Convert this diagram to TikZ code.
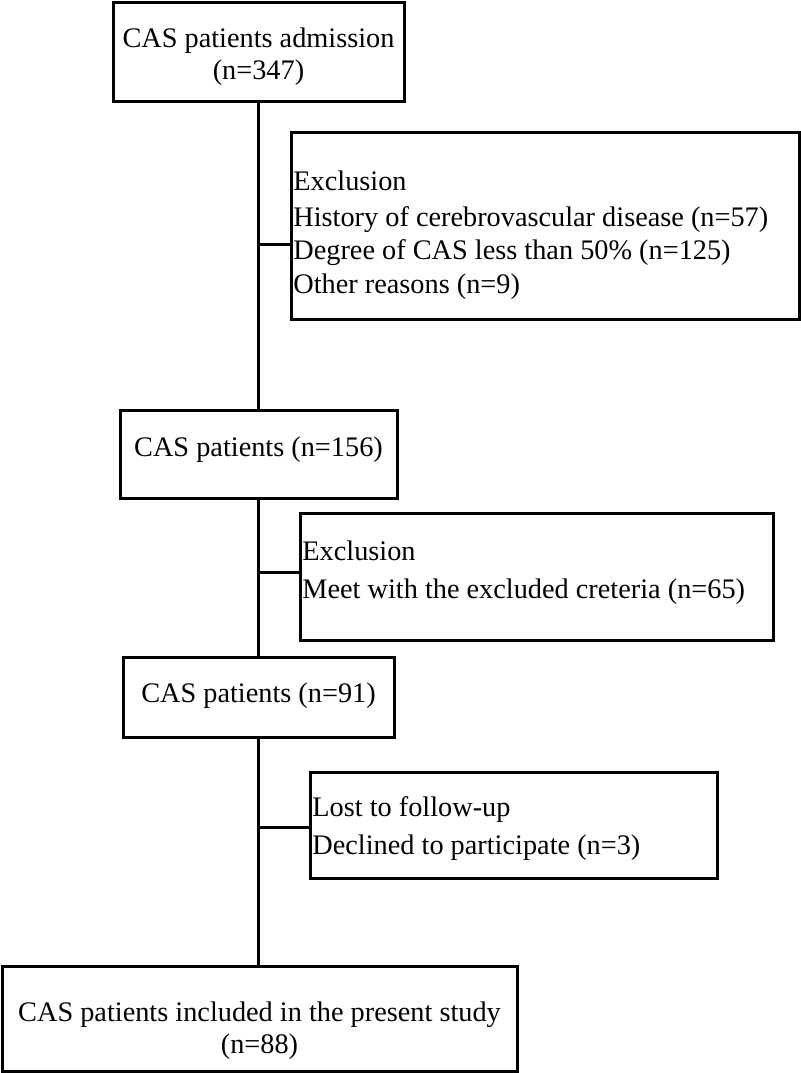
\documentclass[tikz,border=0pt]{standalone}
\usepackage{fontspec}
\setmainfont{Liberation Serif}
\usetikzlibrary{fit}
\begin{document}
\begin{tikzpicture}[x=0.5pt,y=-0.5pt,
  box/.style={draw, line width=1.5pt, inner sep=0pt},
  ln/.style={line width=1.5pt},
  txt/.style={inner sep=0pt, font=\fontsize{14.15}{16}\selectfont}]
\useasboundingbox (0,0) rectangle (800,1073);
% boxes
\node[box, fit={(113,2) (404,101)}] (b1) {};
\node[box, fit={(291,132) (799,319)}] (e1) {};
\node[box, fit={(120,410) (397,498)}] (b2) {};
\node[box, fit={(300,513) (773,640)}] (e2) {};
\node[box, fit={(123,657) (394,737)}] (b3) {};
\node[box, fit={(310,772) (717,878)}] (e3) {};
\node[box, fit={(2,966) (517,1071)}] (b4) {};
% texts
\node[txt, anchor=base] (t1a) at (258.5,47) {CAS patients admission};
\node[txt, anchor=base] (t1b) at (258.5,79) {(n=347)};
\node[txt, anchor=base west] (x1a) at (293,190) {Exclusion};
\node[txt, anchor=base west] (x1b) at (293,226) {History of cerebrovascular disease (n=57)};
\node[txt, anchor=base west] (x1c) at (293,259) {Degree of CAS less than 50\% (n=125)};
\node[txt, anchor=base west] (x1d) at (293,293) {Other reasons (n=9)};
\node[txt, anchor=base] (t2) at (258.5,456) {CAS patients (n=156)};
\node[txt, anchor=base west] (x2a) at (302,560) {Exclusion};
\node[txt, anchor=base west] (x2b) at (302,598) {Meet with the excluded creteria (n=65)};
\node[txt, anchor=base] (t3) at (258.5,702) {CAS patients (n=91)};
\node[txt, anchor=base west] (x3a) at (312,816) {Lost to follow-up};
\node[txt, anchor=base west] (x3b) at (312,854) {Declined to participate (n=3)};
\node[txt, anchor=base] (t4a) at (259.5,1021) {CAS patients included in the present study};
\node[txt, anchor=base] (t4b) at (259.5,1053) {(n=88)};
% connectors
\draw[ln] (b1.south) -- (b2.north);
\draw[ln] (b2.south) -- (b3.north);
\draw[ln] (b3.south) -- (b3.south |- b4.north);
\coordinate (j1) at (258.5,244);
\coordinate (j2) at (258.5,572);
\coordinate (j3) at (258.5,827);
\draw[ln] (j1) -- (j1 -| e1.west);
\draw[ln] (j2) -- (j2 -| e2.west);
\draw[ln] (j3) -- (j3 -| e3.west);
\end{tikzpicture}
\end{document}
